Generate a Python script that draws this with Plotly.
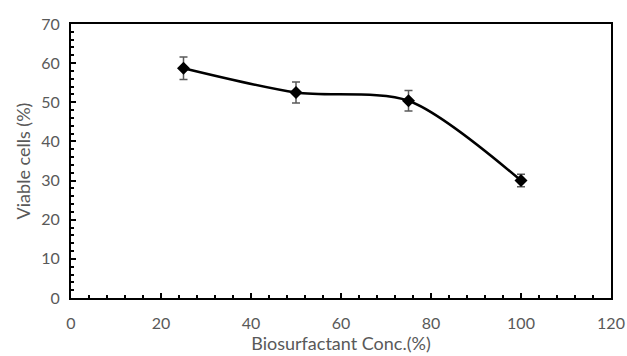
import plotly.graph_objects as go

# Viability of cells across biosurfactant concentrations
conc = [25, 50, 75, 100]
viable = [58.7, 52.5, 50.4, 30.0]
err = [2.9, 2.7, 2.6, 1.6]

x_ticks = [0, 20, 40, 60, 80, 100, 120]
y_ticks = [0, 10, 20, 30, 40, 50, 60, 70]

text_color = "#595959"
font_family = "Lato, sans-serif"

fig = go.Figure()
fig.add_trace(go.Scatter(
    x=conc,
    y=viable,
    mode="lines+markers",
    line=dict(color="black", width=2.5, shape="spline", smoothing=0.8),
    marker=dict(symbol="diamond", size=10, color="black"),
    error_y=dict(type="data", array=err, visible=True,
                 color="#5a5a5a", thickness=1.5, width=4),
    showlegend=False,
))

axis_common = dict(
    showline=True, linecolor="black", linewidth=2, mirror=True,
    ticks="inside", tickcolor="black", tickwidth=1.5, ticklen=5,
    showgrid=False, zeroline=False, automargin=False,
    tickfont=dict(family=font_family, size=16, color=text_color),
)

fig.update_layout(
    width=627, height=356,
    margin=dict(l=71, r=16, t=24, b=58),
    paper_bgcolor="white", plot_bgcolor="white",
    xaxis=dict(
        range=[0, 120], tickvals=x_ticks, ticklabelstandoff=10,
        minor=dict(ticks="inside", dtick=4, ticklen=3, tickwidth=1.5, tickcolor="black"),
        title=dict(text="Biosurfactant Conc.(%)", standoff=0,
                   font=dict(family=font_family, size=18, color=text_color)),
        **axis_common,
    ),
    yaxis=dict(
        range=[0, 70], tickvals=y_ticks, ticklabelstandoff=6,
        minor=dict(ticks="inside", dtick=2, ticklen=3, tickwidth=1.5, tickcolor="black"),
        title=dict(text="Viable cells (%)", standoff=6,
                   font=dict(family=font_family, size=18, color=text_color)),
        **axis_common,
    ),
)

fig.write_html("out.html")
